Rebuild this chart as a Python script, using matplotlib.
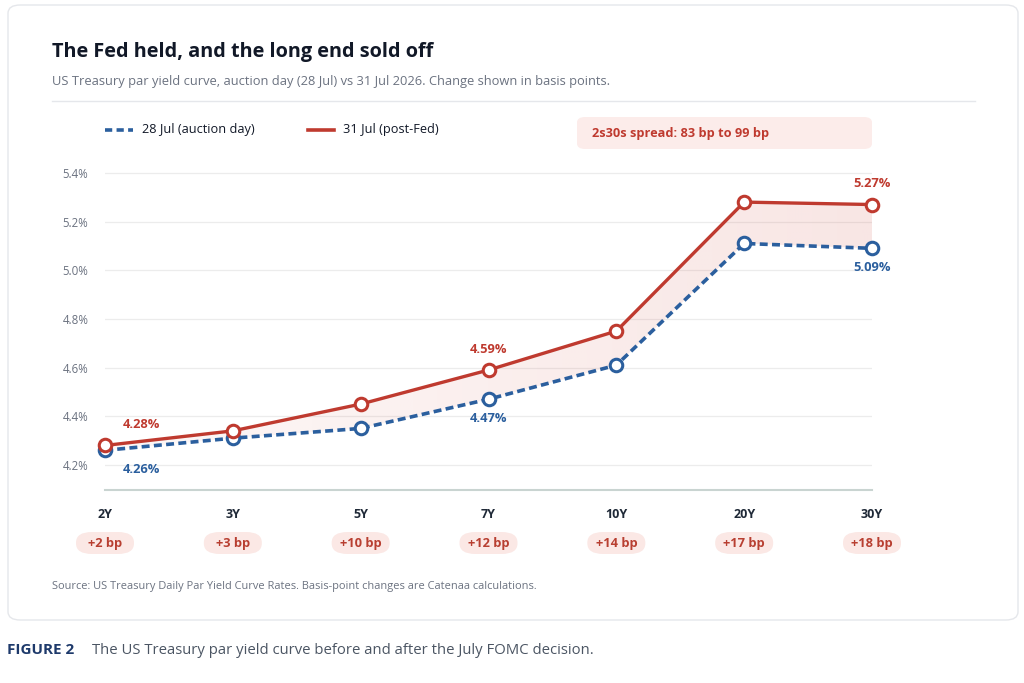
import matplotlib.pyplot as plt
import numpy as np
from matplotlib.patches import FancyBboxPatch, Polygon
from matplotlib.transforms import blended_transform_factory
from matplotlib.lines import Line2D

# -------------------------------------------------------------------
# DATA
# -------------------------------------------------------------------
tenors = ["2Y", "3Y", "5Y", "7Y", "10Y", "20Y", "30Y"]
yield_28_jul = [4.26, 4.31, 4.35, 4.47, 4.61, 5.11, 5.09]
yield_31_jul = [4.28, 4.34, 4.45, 4.59, 4.75, 5.28, 5.27]
change_bp = [2, 3, 10, 12, 14, 17, 18]
y_ticks = [4.2, 4.4, 4.6, 4.8, 5.0, 5.2, 5.4]
labelled_points = [0, 3, 6]

BLUE = "#2b5f9e"
RED = "#bf3a2f"
DARK = "#111827"
GRAY = "#6b7280"

plt.rcParams["font.family"] = ["Open Sans", "DejaVu Sans"]

W, H = 1024, 683
fig = plt.figure(figsize=(W / 100, H / 100), dpi=100)


def fx(px):
    return px / W


def fy(py):
    return 1 - py / H


# card
card = FancyBboxPatch((fx(8), fy(620)), fx(1010), (620 - 5) / H,
                      boxstyle="round,pad=0,rounding_size=0.012",
                      transform=fig.transFigure, facecolor="white",
                      edgecolor="#e5e7eb", linewidth=1.0, zorder=-5)
fig.patches.append(card)

fig.text(fx(52), fy(52), "The Fed held, and the long end sold off",
         fontsize=14.3, fontweight="bold", color=DARK, va="center")
fig.text(fx(52), fy(82),
         "US Treasury par yield curve, auction day (28 Jul) vs 31 Jul 2026. "
         "Change shown in basis points.",
         fontsize=9.3, color=GRAY, va="center")
fig.add_artist(Line2D([fx(52), fx(975)], [fy(101), fy(101)],
                      color="#e5e7eb", linewidth=1.0, transform=fig.transFigure))

# legend
fig.add_artist(Line2D([fx(105), fx(133)], [fy(130), fy(130)], color=BLUE,
                      linewidth=2.6, linestyle=(0, (2, 1.2)),
                      transform=fig.transFigure))
fig.text(fx(142), fy(130), "28 Jul (auction day)", fontsize=9.2, color=DARK,
         va="center")
fig.add_artist(Line2D([fx(308), fx(334)], [fy(130), fy(130)], color=RED,
                      linewidth=2.6, transform=fig.transFigure))
fig.text(fx(343), fy(130), "31 Jul (post-Fed)", fontsize=9.2, color=DARK,
         va="center")

spread_box = FancyBboxPatch((fx(577), fy(149)), fx(872 - 577), (149 - 117) / H,
                            boxstyle="round,pad=0,rounding_size=0.008",
                            transform=fig.transFigure, facecolor="#fcecea",
                            edgecolor="none", zorder=-4)
fig.patches.append(spread_box)
fig.text(fx(592), fy(134), "2s30s spread: 83 bp to 99 bp", fontsize=9.2,
         fontweight="bold", color=RED, va="center")

# -------------------------------------------------------------------
# CHART
# -------------------------------------------------------------------
ax = fig.add_axes([fx(105), fy(490), fx(872 - 105), (490 - 160) / H])
ax.set_facecolor("none")
x = np.arange(len(tenors))

ax.set_xlim(0, len(tenors) - 1)
ax.set_ylim(4.097, 5.453)

# gradient fill between the curves
poly_pts = list(zip(x, yield_31_jul)) + list(zip(x[::-1], yield_28_jul[::-1]))
poly = Polygon(poly_pts, closed=True, facecolor="none", edgecolor="none")
ax.add_patch(poly)
grad = np.linspace(0.05, 0.17, 256).reshape(1, -1)
rgba = np.zeros((1, 256, 4))
rgba[..., 0] = 0xd9 / 255
rgba[..., 1] = 0x6b / 255
rgba[..., 2] = 0x60 / 255
rgba[..., 3] = grad
img = ax.imshow(rgba, extent=[0, len(tenors) - 1, 4.097, 5.453],
                aspect="auto", origin="lower", zorder=1)
img.set_clip_path(poly)

ax.plot(x, yield_28_jul, color=BLUE, linewidth=2.6, linestyle=(0, (2.2, 1.2)),
        marker="o", markersize=9, markerfacecolor="white",
        markeredgewidth=2.2, zorder=3, clip_on=False)
ax.plot(x, yield_31_jul, color=RED, linewidth=2.4,
        marker="o", markersize=9, markerfacecolor="white",
        markeredgewidth=2.2, zorder=4, clip_on=False)

for i in labelled_points:
    ax.annotate(f"{yield_31_jul[i]:.2f}%", (x[i], yield_31_jul[i]),
                xytext=(26 if i == 0 else 0, 15), textcoords="offset points",
                ha="center", va="center", fontsize=9.3, fontweight="bold",
                color=RED)
    ax.annotate(f"{yield_28_jul[i]:.2f}%", (x[i], yield_28_jul[i]),
                xytext=(26 if i == 0 else 0, -14), textcoords="offset points",
                ha="center", va="center", fontsize=9.3, fontweight="bold",
                color=BLUE)

ax.set_yticks(y_ticks)
ax.set_yticklabels([f"{v:.1f}%" for v in y_ticks])
ax.tick_params(axis="y", length=0, pad=12, labelsize=8.3, labelcolor=GRAY)
ax.grid(axis="y", color="#ececec", linewidth=0.9)
ax.set_axisbelow(True)
ax.set_xticks([])
for side in ["top", "right", "left"]:
    ax.spines[side].set_visible(False)
ax.spines["bottom"].set_color("#c9d4d1")
ax.spines["bottom"].set_linewidth(1.5)

# tenor labels and fixed-width basis-point pills under each tenor
trans = blended_transform_factory(ax.transData, fig.transFigure)
pill_w, pill_h = 58, 22
for i, (tenor, bp) in enumerate(zip(tenors, change_bp)):
    ax.text(x[i], fy(514), tenor, transform=trans, ha="center", va="center",
            fontsize=9, fontweight="bold", color="#1f2937", clip_on=False)
    cx = ax.transData.transform((x[i], 0))[0]
    pill = FancyBboxPatch((fx(cx - pill_w / 2), fy(543 + pill_h / 2)),
                          fx(pill_w), pill_h / H,
                          boxstyle="round,pad=0,rounding_size=0.0155",
                          transform=fig.transFigure, facecolor="#fbe8e5",
                          edgecolor="none", zorder=-3)
    fig.patches.append(pill)
    ax.text(x[i], fy(543), f"+{bp} bp", transform=trans, ha="center",
            va="center", fontsize=9.3, fontweight="bold", color="#b83f31",
            clip_on=False)

fig.text(fx(52), fy(587),
         "Source: US Treasury Daily Par Yield Curve Rates. "
         "Basis-point changes are Catenaa calculations.",
         fontsize=7.9, color=GRAY, va="center")

fig.text(fx(7), fy(650), "FIGURE 2", fontsize=11, fontweight="bold",
         color="#1e3a6b", va="center")
fig.text(fx(92), fy(650),
         "The US Treasury par yield curve before and after the July FOMC decision.",
         fontsize=10.7, color="#4b5563", va="center")

fig.savefig("out.png", dpi=100, facecolor="white")
